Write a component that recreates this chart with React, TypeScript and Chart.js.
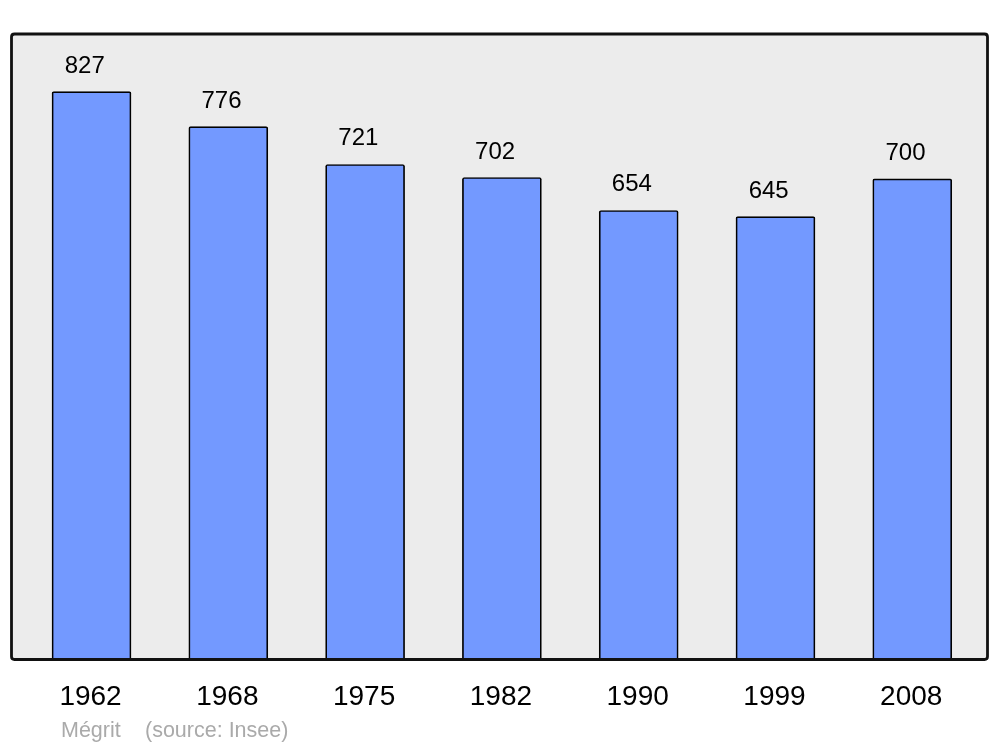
import React, { useEffect, useRef } from "react";
import { Chart, registerables } from "chart.js";

Chart.register(...registerables);

const years: string[] = ["1962", "1968", "1975", "1982", "1990", "1999", "2008"];
const population: number[] = [827, 776, 721, 702, 654, 645, 700];
const footerName = "Mégrit";
const footerSource = "(source: Insee)";

const FONT = "'Liberation Sans', Arial, sans-serif";

function roundRectPath(ctx: CanvasRenderingContext2D, x: number, y: number, w: number, h: number, r: number) {
  ctx.beginPath();
  ctx.moveTo(x + r, y);
  ctx.lineTo(x + w - r, y);
  ctx.quadraticCurveTo(x + w, y, x + w, y + r);
  ctx.lineTo(x + w, y + h - r);
  ctx.quadraticCurveTo(x + w, y + h, x + w - r, y + h);
  ctx.lineTo(x + r, y + h);
  ctx.quadraticCurveTo(x, y + h, x, y + h - r);
  ctx.lineTo(x, y + r);
  ctx.quadraticCurveTo(x, y, x + r, y);
  ctx.closePath();
}

const framePlugin = {
  id: "frame",
  beforeDatasetsDraw(chart: any) {
    const { ctx, chartArea } = chart;
    const { left, top, right, bottom } = chartArea;
    ctx.save();
    ctx.fillStyle = "#ececec";
    roundRectPath(ctx, left, top, right - left, bottom - top, 3);
    ctx.fill();
    ctx.restore();
  },
  afterDatasetsDraw(chart: any) {
    const { ctx, chartArea } = chart;
    const { left, top, right, bottom } = chartArea;
    ctx.save();
    ctx.strokeStyle = "#111";
    ctx.lineWidth = 2.8;
    roundRectPath(ctx, left, top, right - left, bottom - top, 3);
    ctx.stroke();

    const xs = chart.scales.x;
    const ys = chart.scales.y;
    ctx.fillStyle = "#000";
    ctx.textAlign = "center";
    ctx.textBaseline = "alphabetic";
    ctx.font = `24px ${FONT}`;
    population.forEach((v, i) => {
      const px = xs.getPixelForValue(i);
      const py = ys.getPixelForValue(v);
      ctx.fillText(String(v), px - 6.8, py - 19);
    });
    ctx.font = `28px ${FONT}`;
    years.forEach((y, i) => {
      const px = xs.getPixelForValue(i);
      ctx.fillText(y, px - 1, 705);
    });
    ctx.textAlign = "left";
    ctx.fillStyle = "#aaaaaa";
    ctx.font = `21.5px ${FONT}`;
    ctx.fillText(footerName, 61, 737);
    ctx.fillText(footerSource, 145, 737);
    ctx.restore();
  },
};

export default function App() {
  const ref = useRef<HTMLCanvasElement | null>(null);
  useEffect(() => {
    if (!ref.current) return;
    const chart = new Chart(ref.current, {
      type: "bar",
      data: {
        datasets: [
          {
            data: population.map((v, i) => ({ x: i, y: v })),
            backgroundColor: "#7399ff",
            borderColor: "#000",
            borderWidth: 1.7,
            borderRadius: 2,
            borderSkipped: "start",
            barThickness: 79,
          } as any,
        ],
      },
      options: {
        responsive: false,
        animation: false,
        devicePixelRatio: 1,
        layout: { padding: { left: 11.5, right: 12.5, top: 34, bottom: 87.5 } },
        plugins: { legend: { display: false }, tooltip: { enabled: false } },
        scales: {
          x: { type: "linear", min: -0.585, max: 6.55, offset: false, display: false, grid: { offset: false } },
          y: { min: 0, max: 911, display: false },
        },
      },
      plugins: [framePlugin],
    });
    return () => chart.destroy();
  }, []);
  return (
    <div style={{ position: "absolute", left: 0, top: 0, width: 1000, height: 747, background: "#fff" }}>
      <canvas ref={ref} width={1000} height={747} style={{ display: "block" }} />
    </div>
  );
}
